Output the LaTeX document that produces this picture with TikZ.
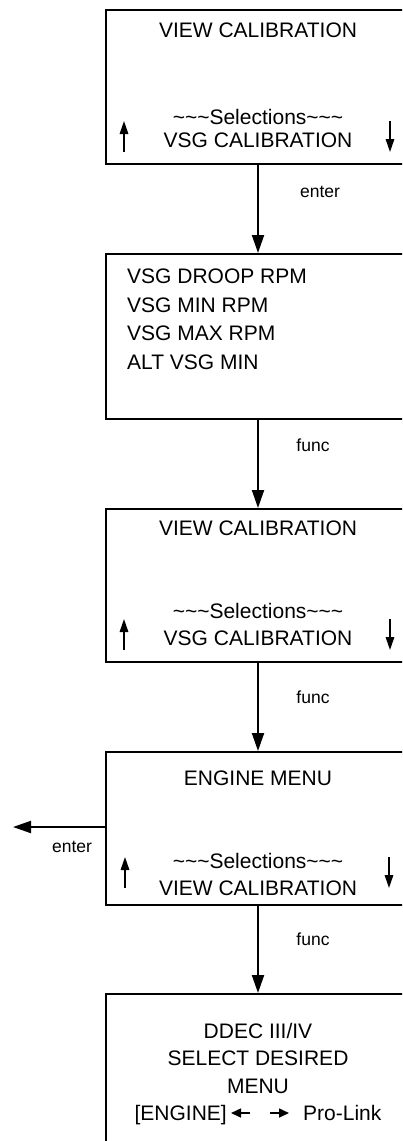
\documentclass[tikz,border=0pt]{standalone}
\usepackage{fontspec}
\setmainfont{Liberation Sans}
\usetikzlibrary{arrows.meta}
\begin{document}
\begin{tikzpicture}[x=1pt,y=-1pt,
  box/.style={draw,line width=1.8pt,rectangle,inner sep=0pt,anchor=north west},
  txt/.style={inner sep=0pt,anchor=base,font=\fontsize{21}{24}\selectfont},
  ltxt/.style={inner sep=0pt,anchor=base west,font=\fontsize{21}{24}\selectfont},
  lbl/.style={inner sep=0pt,anchor=base,font=\fontsize{17.5}{20}\selectfont},
  conn/.style={line width=2pt,-{Triangle[length=18pt,width=12pt]}},
  sarrow/.style={line width=1.6pt,-{Triangle[length=13pt,width=8.5pt]}},
  iarrow/.style={line width=1.6pt,-{Triangle[length=10pt,width=9pt]}}]
\useasboundingbox (0,0) rectangle (402,1141);
\clip (0,0) rectangle (402,1141);
% boxes
\node[box,minimum width=306pt,minimum height=154pt] (b1) at (105,9) {};
\node[box,minimum width=306pt,minimum height=165pt] (b2) at (105,253) {};
\node[box,minimum width=306pt,minimum height=153pt] (b3) at (105,508) {};
\node[box,minimum width=306pt,minimum height=153pt] (b4) at (105,751) {};
\node[box,minimum width=306pt,minimum height=170pt] (b5) at (105,993) {};
% box 1
\node[txt] (t1a) at (258,37) {VIEW CALIBRATION};
\node[txt] (t1b) at (258,124) {\textasciitilde\textasciitilde\textasciitilde Selections\textasciitilde\textasciitilde\textasciitilde};
\node[txt] (t1c) at (258,147) {VSG CALIBRATION};
\draw[sarrow] (124,152) -- (124,121);
\draw[sarrow] (390,121) -- (390,152);
% box 2
\node[ltxt] (t2a) at (127,283) {VSG DROOP RPM};
\node[ltxt] (t2b) at (127,312) {VSG MIN RPM};
\node[ltxt] (t2c) at (127,340) {VSG MAX RPM};
\node[ltxt] (t2d) at (127,369) {ALT VSG MIN};
% box 3
\node[txt] (t3a) at (258,535) {VIEW CALIBRATION};
\node[txt] (t3b) at (258,618) {\textasciitilde\textasciitilde\textasciitilde Selections\textasciitilde\textasciitilde\textasciitilde};
\node[txt] (t3c) at (258,645) {VSG CALIBRATION};
\draw[sarrow] (124,650) -- (124,619);
\draw[sarrow] (390,619) -- (390,650);
% box 4
\node[txt] (t4a) at (258,785) {ENGINE MENU};
\node[txt] (t4b) at (258,868) {\textasciitilde\textasciitilde\textasciitilde Selections\textasciitilde\textasciitilde\textasciitilde};
\node[txt] (t4c) at (258,895) {VIEW CALIBRATION};
\draw[sarrow] (125,888) -- (125,857);
\draw[sarrow] (389,857) -- (389,888);
% box 5
\node[txt] (t5a) at (258,1038) {DDEC III/IV};
\node[txt] (t5b) at (258,1065) {SELECT DESIRED};
\node[txt] (t5c) at (258,1093) {MENU};
\node[inner sep=0pt,anchor=base east,font=\fontsize{21}{24}\selectfont] (eng) at (227,1120) {[ENGINE]};
\node[inner sep=0pt,anchor=base west,font=\fontsize{21}{24}\selectfont] (pl) at (303,1120) {Pro-Link};
\coordinate (la1) at (250,1113); \coordinate (la2) at (231,1113);
\coordinate (ra1) at (270,1113); \coordinate (ra2) at (289,1113);
\draw[iarrow] (la1) -- (la2);
\draw[iarrow] (ra1) -- (ra2);
% connectors
\draw[conn] (b1.south -| 258,0) -- (b2.north -| 258,0);
\node[lbl] (l1) at (320,197) {enter};
\draw[conn] (b2.south -| 258,0) -- (b3.north -| 258,0);
\node[lbl] (l2) at (313,451) {func};
\draw[conn] (b3.south -| 258,0) -- (b4.north -| 258,0);
\node[lbl] (l3) at (313,703) {func};
\draw[conn] (b4.south -| 258,0) -- (b5.north -| 258,0);
\node[lbl] (l4) at (313,945) {func};
\coordinate (lout) at (13,827);
\draw[conn] (b4.west |- lout) -- (lout);
\node[lbl] (l5) at (72,852) {enter};
\end{tikzpicture}
\end{document}
